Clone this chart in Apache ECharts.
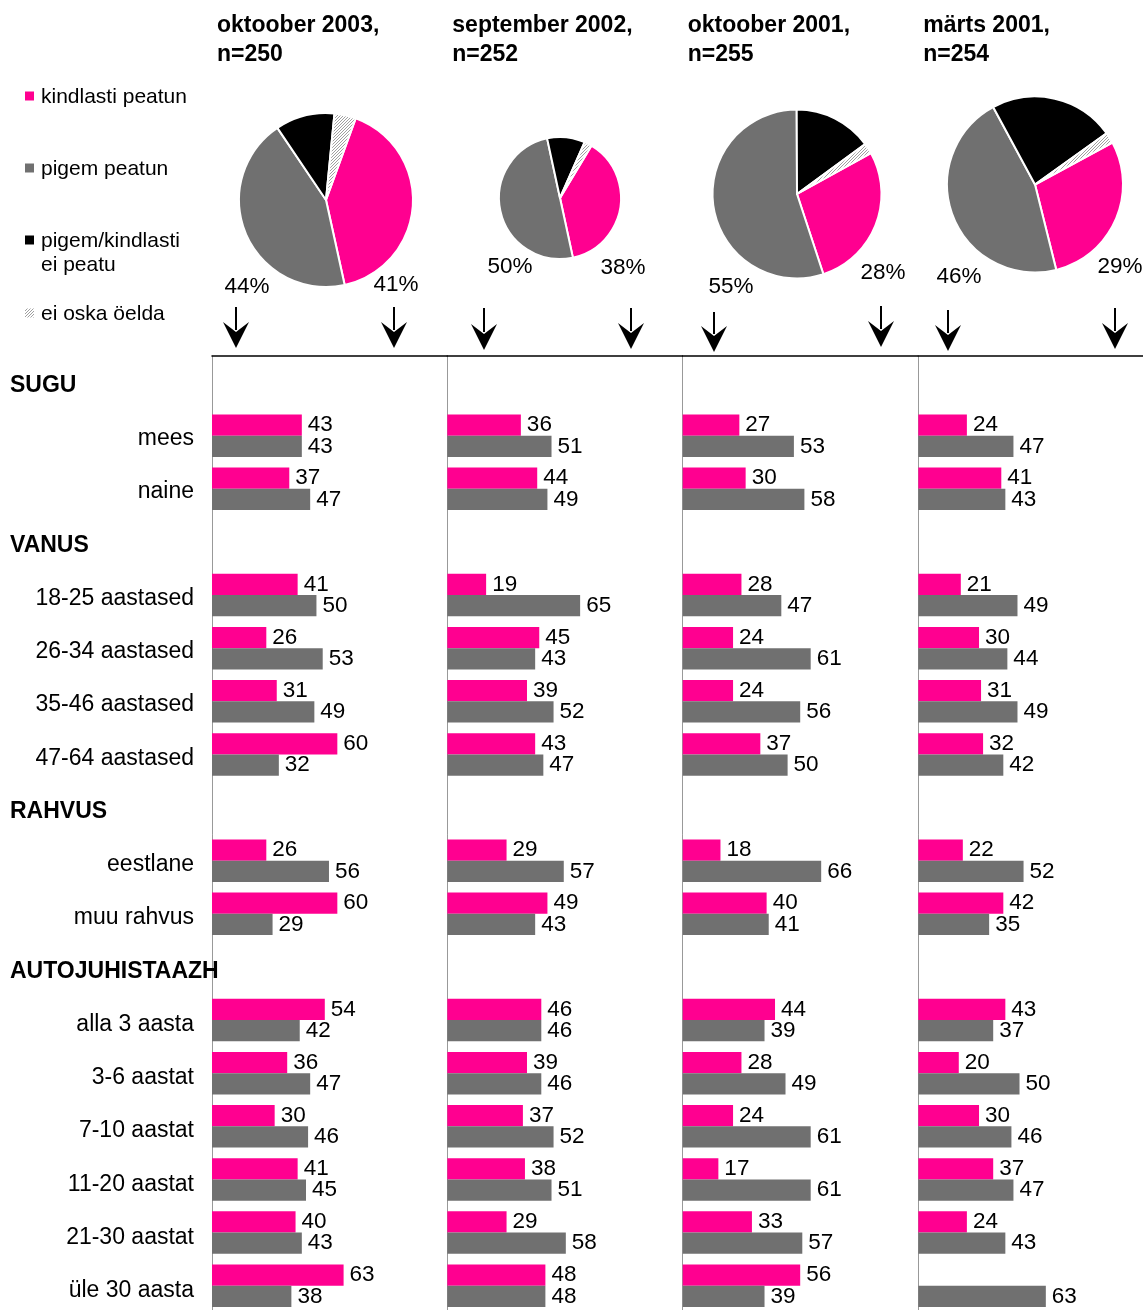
<!DOCTYPE html>
<html><head><meta charset="utf-8">
<script src="https://cdn.jsdelivr.net/npm/echarts/dist/echarts.min.js"></script>
<style>html,body{margin:0;padding:0;background:#fff;overflow:hidden}#c{width:1143px;height:1330px}</style>
</head><body><div id="c"></div><script>
// ---- data ----
const categories = ['SUGU','mees','naine','VANUS','18-25 aastased','26-34 aastased','35-46 aastased','47-64 aastased','RAHVUS','eestlane','muu rahvus','AUTOJUHISTAAZH','alla 3 aasta','3-6 aastat','7-10 aastat','11-20 aastat','21-30 aastat','üle 30 aasta'];
const headers = ['SUGU','VANUS','RAHVUS','AUTOJUHISTAAZH'];
const surveyTitles = ['oktoober 2003,\nn=250','september 2002,\nn=252','oktoober 2001,\nn=255','märts 2001,\nn=254'];
const answerNames = ['kindlasti peatun','pigem peatun','pigem/kindlasti\nei peatu','ei oska öelda'];
const pieOct2003 = [41,44,11,4];
const pieSep2002 = [38,50,10,2];
const pieOct2001 = [28,55,15,2];
const pieMar2001 = [29,46,23,2];
const pinkOct2003 = [null,43,37,null,41,26,31,60,null,26,60,null,54,36,30,41,40,63];
const greyOct2003 = [null,43,47,null,50,53,49,32,null,56,29,null,42,47,46,45,43,38];
const pinkSep2002 = [null,36,44,null,19,45,39,43,null,29,49,null,46,39,37,38,29,48];
const greySep2002 = [null,51,49,null,65,43,52,47,null,57,43,null,46,46,52,51,58,48];
const pinkOct2001 = [null,27,30,null,28,24,24,37,null,18,40,null,44,28,24,17,33,56];
const greyOct2001 = [null,53,58,null,47,61,56,50,null,66,41,null,39,49,61,61,57,39];
const pinkMar2001 = [null,24,41,null,21,30,31,32,null,22,42,null,43,20,30,37,24,null];
const greyMar2001 = [null,47,43,null,49,44,49,42,null,52,35,null,37,50,46,47,43,63];

const pies = [pieOct2003, pieSep2002, pieOct2001, pieMar2001];
const pinks = [pinkOct2003, pinkSep2002, pinkOct2001, pinkMar2001];
const greys = [greyOct2003, greySep2002, greyOct2001, greyMar2001];

// ---- style ----
const FONT = "'Liberation Sans', Arial, sans-serif";
const PINK = '#FF0090', GREY = '#707070', BLACK = '#000000';
const panelLeft = [212, 447.3, 682.7, 918.3];
const panelMax = [112.5, 115, 112, 111];
const pieCenter = [[326,200],[560,198],[797,194],[1035,184.5]];
const pieRadius = [87,61,84.5,88];
const pieStart = [70,59,29,28.4];
const pctPos = [[[247,287],[396,285]],[[510,267],[623,268]],[[731,287],[883,273]],[[959,277],[1120,267]]];
const arrows = [[236,307,348],[394,307,348],[484,308,350],[631,308,349],[714,312,352],[881,306,347],[948,310,351],[1115,308,349]];

// hatch pattern for "ei oska öelda"
const hatch = document.createElement('canvas'); hatch.width = 3; hatch.height = 3;
const hc = hatch.getContext('2d');
hc.fillStyle = '#fff'; hc.fillRect(0,0,3,3);
hc.fillStyle = '#a0a0a0'; hc.fillRect(2,0,1,1); hc.fillRect(1,1,1,1); hc.fillRect(0,2,1,1);
const HATCH = {image: hatch, repeat: 'repeat'};

const grid = [], xAxis = [], yAxis = [], series = [];
for (let i = 0; i < 4; i++) {
  grid.push({left: panelLeft[i], top: 356, width: 235, height: 956.25});
  xAxis.push({type:'value', gridIndex:i, min:0, max:panelMax[i], position:'top',
    axisLine:{show:true, lineStyle:{color:'#000', width:1.5}}, axisTick:{show:false},
    axisLabel:{show:false}, splitLine:{show:false}});
  yAxis.push({type:'category', gridIndex:i, inverse:true, data:categories, position:'left',
    axisLine:{show:true, lineStyle:{color:'#999', width:1}}, axisTick:{show:false},
    axisLabel:{show:false}});
  const lbl = {show:true, position:'right', distance:6, fontSize:22.5, color:'#000', fontFamily:FONT};
  series.push({type:'bar', name:'kindlasti peatun', xAxisIndex:i, yAxisIndex:i, data:pinks[i],
    barWidth:21.3, barGap:'0%', itemStyle:{color:PINK}, label:lbl, silent:true});
  series.push({type:'bar', name:'pigem peatun', xAxisIndex:i, yAxisIndex:i, data:greys[i],
    barWidth:21.3, barGap:'0%', itemStyle:{color:GREY}, label:lbl, silent:true});
  const colors = [PINK, GREY, BLACK, HATCH];
  series.push({type:'pie', center:pieCenter[i], radius:pieRadius[i], startAngle:pieStart[i], clockwise:true,
    label:{show:false}, labelLine:{show:false}, silent:true,
    itemStyle:{borderColor:'#fff', borderWidth:2},
    data: pies[i].map((v, k) => ({value:v, name:answerNames[k], itemStyle:{color:colors[k]}}))});
}
// label-only grid for the row labels (slightly different spacing as in the original)
grid.push({left: 212, top: 359, width: 1, height: 958.5});
xAxis.push({type:'value', gridIndex:4, show:false});
yAxis.push({type:'category', gridIndex:4, inverse:true, data:categories, position:'left',
  axisLine:{show:false}, axisTick:{show:false},
  axisLabel:{show:true, interval:0, margin:18, align:'right', fontSize:23,
    color:'#000', fontFamily:FONT, formatter: v => headers.includes(v) ? '' : v}});
yAxis.push({type:'category', gridIndex:4, inverse:true, data:categories, position:'left',
  axisLine:{show:false}, axisTick:{show:false},
  axisLabel:{show:true, interval:0, margin:202, align:'left', fontSize:23, fontWeight:'bold',
    color:'#000', fontFamily:FONT, formatter: v => headers.includes(v) ? v : ''}});

// ---- graphic annotations ----
const graphic = [];
for (let i = 0; i < 4; i++) {
  graphic.push({type:'text', left: panelLeft[i] + 5, top: 11, style:{text: surveyTitles[i], font:`bold 23px ${FONT}`, lineHeight:29, fill:'#000'}});
  const [g, p] = [pies[i][1], pies[i][0]];
  graphic.push({type:'text', x: pctPos[i][0][0], y: pctPos[i][0][1], style:{text: g + '%', font:`22.5px ${FONT}`, fill:'#000', textAlign:'center', textVerticalAlign:'middle'}});
  graphic.push({type:'text', x: pctPos[i][1][0], y: pctPos[i][1][1], style:{text: p + '%', font:`22.5px ${FONT}`, fill:'#000', textAlign:'center', textVerticalAlign:'middle'}});
}
arrows.forEach(([x, top, tip]) => {
  const yh = tip - 26;
  graphic.push({type:'line', shape:{x1:x, y1:top, x2:x, y2:yh + 8}, style:{stroke:'#000', lineWidth:2}});
  graphic.push({type:'polygon', shape:{points:[[x-13, yh], [x, yh+10], [x+13, yh], [x, tip]]}, style:{fill:'#000'}});
});
// legend
const legendY = [96, 168, 240, 313];
const legendCol = [PINK, GREY, BLACK, HATCH];
answerNames.forEach((name, k) => {
  graphic.push({type:'rect', shape:{x:25, y:legendY[k]-4.5, width:9, height:9}, style:{fill:legendCol[k]}});
  graphic.push({type:'text', x:41, y:legendY[k] - 11, style:{text:name, font:`21px ${FONT}`, lineHeight:24, fill:'#000', textVerticalAlign:'top'}});
});

const chart = echarts.init(document.getElementById('c'), null, {renderer:'canvas'});
chart.setOption({animation:false, backgroundColor:'#fff', grid, xAxis, yAxis, series, graphic});
</script></body></html>
